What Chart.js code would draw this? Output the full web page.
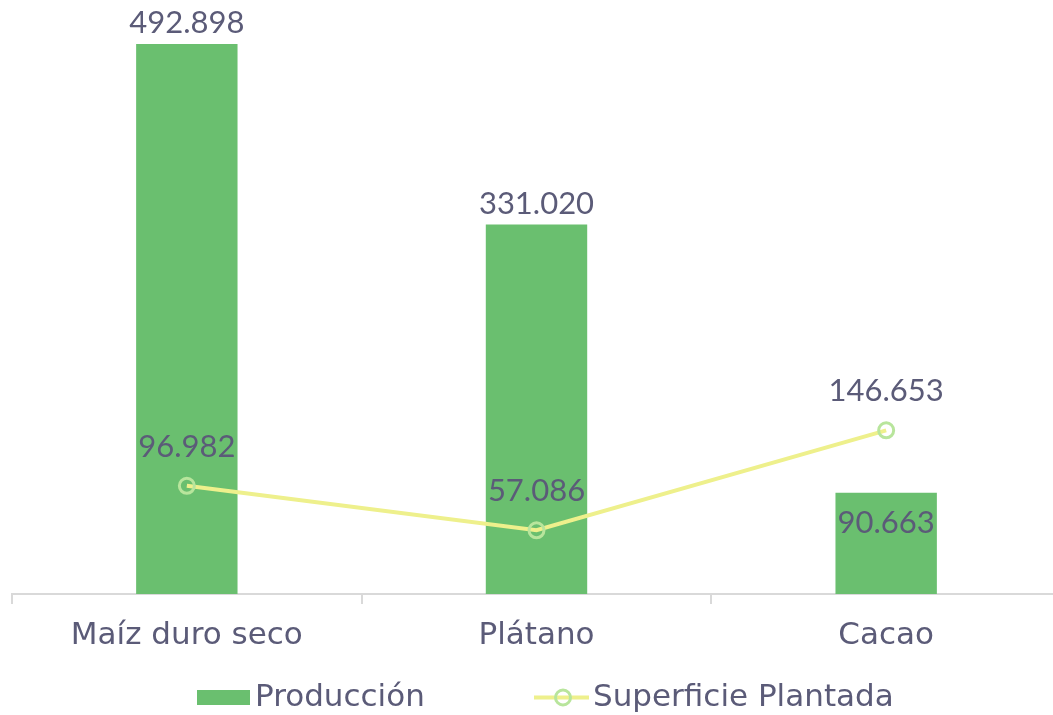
<!DOCTYPE html>
<html>
<head>
<meta charset="utf-8">
<script src="https://cdn.jsdelivr.net/npm/chart.js@4/dist/chart.umd.min.js"></script>
<style>
html,body{margin:0;padding:0;background:#fff;overflow:hidden;}
#wrap{width:1053px;height:715px;position:relative;overflow:hidden;}
</style>
</head>
<body>
<div id="wrap"><canvas id="c" width="1061" height="715"></canvas></div>
<script>
const categories = ['Maíz duro seco', 'Plátano', 'Cacao'];
const produccion = [492898, 331020, 90663];
const superficie = [96982, 57086, 146653];
const seriesNames = ['Producción', 'Superficie Plantada'];

const TXT = '#5b5b78';
const NUMFONT = 'Lato, "Open Sans", sans-serif';
const TXTFONT = '"DejaVu Sans", sans-serif';
const fmt = v => v.toLocaleString('de-DE');

const labelPlugin = {
  id: 'valueLabels',
  afterDatasetsDraw(chart) {
    const ctx = chart.ctx;
    ctx.save();
    ctx.font = '31px ' + NUMFONT;
    ctx.fillStyle = TXT;
    ctx.textAlign = 'center';
    ctx.textBaseline = 'middle';
    const barMeta = chart.getDatasetMeta(0);
    const barPlace = ['above', 'above', 'inside'];
    barMeta.data.forEach((el, i) => {
      const y = barPlace[i] === 'above' ? el.y - 21 : el.y + 30;
      ctx.fillText(fmt(produccion[i]), el.x, y);
    });
    const lineMeta = chart.getDatasetMeta(1);
    lineMeta.data.forEach((el, i) => {
      ctx.fillText(fmt(superficie[i]), el.x, el.y - 39);
    });
    ctx.restore();
  }
};

const legendPlugin = {
  id: 'customLegend',
  afterDraw(chart) {
    const ctx = chart.ctx;
    ctx.save();
    const y = 697.5;
    ctx.fillStyle = '#6abf6f';
    ctx.fillRect(197, 690, 53, 15);
    ctx.font = '31px ' + TXTFONT;
    ctx.fillStyle = TXT;
    ctx.textBaseline = 'middle';
    ctx.textAlign = 'left';
    ctx.fillText(seriesNames[0], 255, y);
    ctx.strokeStyle = '#eef08c';
    ctx.lineWidth = 4;
    ctx.beginPath(); ctx.moveTo(534, y); ctx.lineTo(589, y); ctx.stroke();
    ctx.strokeStyle = '#b8e59c';
    ctx.lineWidth = 3;
    ctx.beginPath(); ctx.arc(563, y, 7.5, 0, Math.PI * 2); ctx.stroke();
    ctx.fillText(seriesNames[1], 593, y);
    ctx.restore();
  }
};

new Chart(document.getElementById('c'), {
  data: {
    labels: categories,
    datasets: [
      {
        type: 'bar',
        label: seriesNames[0],
        data: produccion,
        backgroundColor: '#6abf6f',
        borderWidth: 0,
        categoryPercentage: 1,
        barPercentage: 0.29,
        order: 2
      },
      {
        type: 'line',
        label: seriesNames[1],
        data: superficie,
        borderColor: '#eef08c',
        borderWidth: 4,
        pointRadius: 7.5,
        pointHoverRadius: 7.5,
        pointBorderColor: '#b8e59c',
        pointBorderWidth: 3,
        pointBackgroundColor: 'rgba(0,0,0,0)',
        tension: 0,
        order: 1
      }
    ]
  },
  options: {
    responsive: false,
    animation: false,
    layout: { autoPadding: false, padding: { left: 12, right: 0, top: 36, bottom: 0 } },
    plugins: { legend: { display: false }, tooltip: { enabled: false } },
    scales: {
      y: { display: false, min: 0, max: 500000 },
      x: {
        offset: true,
        grid: { offset: true, drawOnChartArea: false, color: '#d9d9d9', tickLength: 10, lineWidth: 2 },
        border: { color: '#d9d9d9', width: 2 },
        ticks: { color: TXT, font: { family: TXTFONT, size: 31 }, padding: 13, maxRotation: 0, autoSkip: false },
        afterFit(s) { s.height = 121; }
      }
    }
  },
  plugins: [labelPlugin, legendPlugin]
});
</script>
</body>
</html>
